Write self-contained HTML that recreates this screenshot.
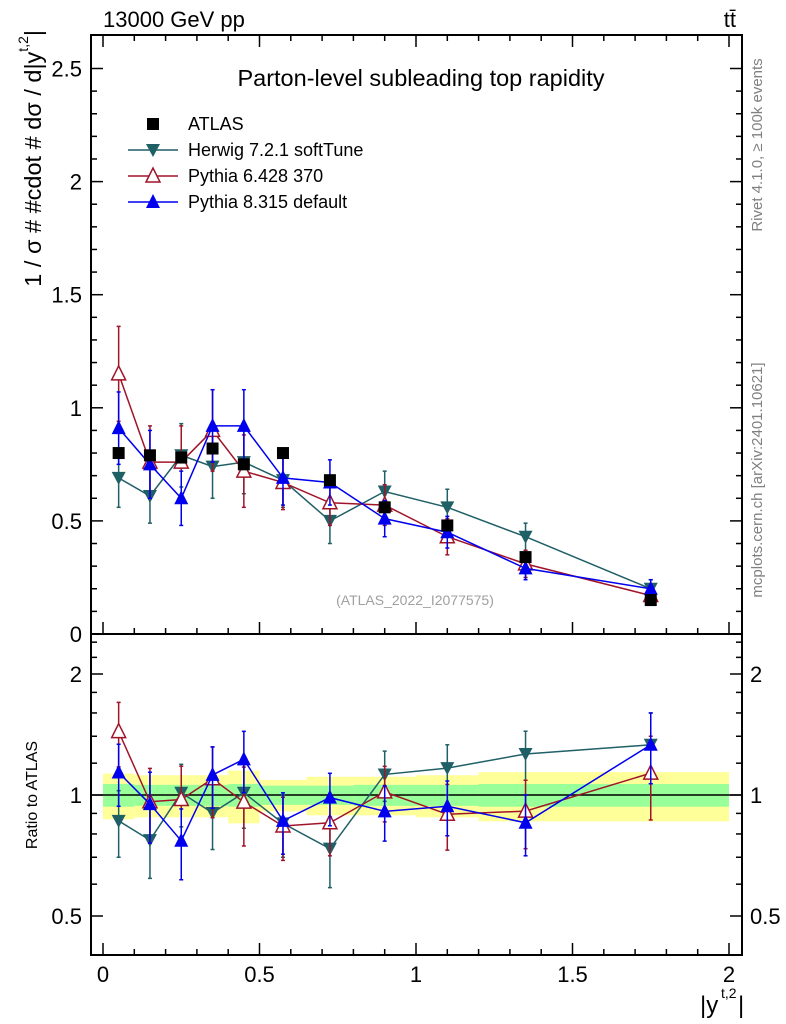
<!DOCTYPE html>
<html><head><meta charset="utf-8"><style>
body{margin:0;background:#fff;}
svg{display:block;font-family:"Liberation Sans",sans-serif;}
</style></head><body>
<svg id="c" width="786" height="1024"></svg>
<script>
const edges=[0,0.1,0.2,0.3,0.4,0.5,0.65,0.8,1.0,1.2,1.5,2.0];
const atlas=[0.80,0.79,0.78,0.82,0.75,0.80,0.68,0.56,0.48,0.34,0.15];
const atlasTot=[0.13,0.12,0.12,0.12,0.15,0.09,0.11,0.11,0.12,0.14,0.14];
const atlasStat=[0.065,0.06,0.06,0.06,0.065,0.055,0.055,0.06,0.06,0.065,0.065];
const herwig=[0.69,0.61,0.79,0.74,0.76,0.68,0.50,0.63,0.56,0.43,0.20];
const herwigErr=[0.13,0.12,0.14,0.14,0.14,0.12,0.10,0.09,0.08,0.06,0.04];
const py6=[1.15,0.76,0.76,0.90,0.72,0.67,0.58,0.57,0.43,0.31,0.17];
const py6Err=[0.21,0.16,0.16,0.18,0.16,0.12,0.10,0.09,0.08,0.06,0.04];
const py8=[0.91,0.75,0.60,0.92,0.92,0.69,0.67,0.51,0.45,0.29,0.20];
const py8Err=[0.16,0.15,0.12,0.16,0.16,0.12,0.10,0.08,0.07,0.05,0.04];
const xTicks=[0,0.5,1,1.5,2];
const yTicks=[0.5,1,1.5,2,2.5];
const rTicks=[0.5,1,2];

const NS="http://www.w3.org/2000/svg",S=document.getElementById('c');
const L=91,R=742,T=35,MB=634,RB=955;
const X=v=>103+v*313;
const Y=v=>634-v*226.2;
const RY=v=>795-Math.log2(v)*121;
function el(t,a,p){const e=document.createElementNS(NS,t);for(const k in a)e.setAttribute(k,a[k]);(p||S).appendChild(e);return e;}
function txt(s,a,p){const e=el('text',a,p);e.textContent=s;return e;}
const cx=edges.slice(0,-1).map((e,i)=>(e+edges[i+1])/2);

const gB=el('g',{});


atlasTot.forEach((u,i)=>{el('rect',{x:X(edges[i]),y:RY(1+u),width:X(edges[i+1])-X(edges[i]),height:RY(1-u)-RY(1+u),fill:'#ffff99'},gB);});
atlasStat.forEach((u,i)=>{el('rect',{x:X(edges[i]),y:RY(1+u),width:X(edges[i+1])-X(edges[i]),height:RY(1-u)-RY(1+u),fill:'#99ff99'},gB);});
el('line',{x1:L,x2:R,y1:RY(1),y2:RY(1),stroke:'#000','stroke-width':1.5});

const f1=el('rect',{x:L,y:T,width:R-L,height:MB-T,fill:'none',stroke:'#000','stroke-width':2});

const f2=el('rect',{x:L,y:MB,width:R-L,height:RB-MB,fill:'none',stroke:'#000','stroke-width':2});


for(let v=0;v<=2.001;v+=0.1){const big=Math.abs(v*2-Math.round(v*2))<1e-6;const h=big?12:6;
 [MB,RB].forEach(b=>{el('line',{x1:X(v),x2:X(v),y1:b,y2:b-h,stroke:'#000','stroke-width':1.5});});
 el('line',{x1:X(v),x2:X(v),y1:T,y2:T+h,stroke:'#000','stroke-width':1.5});}
xTicks.forEach(v=>{const t=txt(String(v),{x:X(v),y:982,'font-size':22,'text-anchor':'middle'});});
for(let v=0;v<=2.6;v+=0.1){const big=Math.abs(v*2-Math.round(v*2))<1e-6;const h=big?12:6;
 if(Y(v)<T)continue;
 el('line',{x1:L,x2:L+h,y1:Y(v),y2:Y(v),stroke:'#000','stroke-width':1.5});
 el('line',{x1:R,x2:R-h,y1:Y(v),y2:Y(v),stroke:'#000','stroke-width':1.5});}
yTicks.forEach(v=>{const t=txt(String(v),{x:82,y:Y(v)+8,'font-size':22,'text-anchor':'end'});});
txt('0',{x:82,y:642,'font-size':22,'text-anchor':'end'});
[0.4,0.5,0.6,0.7,0.8,0.9,1,2].forEach(v=>{const h=(v==0.5||v==1||v==2)?12:6;
 el('line',{x1:L,x2:L+h,y1:RY(v),y2:RY(v),stroke:'#000','stroke-width':1.5});
 el('line',{x1:R,x2:R-h,y1:RY(v),y2:RY(v),stroke:'#000','stroke-width':1.5});});
[1.2,1.4,1.6,1.8,2.2,2.4].forEach(v=>{[L,R].forEach(x0=>el('line',{x1:x0,x2:x0+(x0==L?6:-6),y1:RY(v),y2:RY(v),stroke:'#000','stroke-width':1.5}));});
rTicks.forEach(v=>{[82,750].forEach(xx=>{const t=txt(String(v),{x:xx,y:RY(v)+8,'font-size':22,'text-anchor':xx<100?'end':'start'});});});

function marker(kind,x,y,col,p){
 if(kind=='sq')el('rect',{x:x-6,y:y-6,width:12,height:12,fill:'#000'},p);
 else if(kind=='down')el('polygon',{points:`${x-7},${y-6} ${x+7},${y-6} ${x},${y+7}`,fill:col},p);
 else if(kind=='up')el('polygon',{points:`${x-7},${y+6} ${x+7},${y+6} ${x},${y-8}`,fill:col},p);
 else el('polygon',{points:`${x-7},${y+6} ${x+7},${y+6} ${x},${y-8}`,fill:'#fff',stroke:col,'stroke-width':1.5},p);}
function series(name,vals,errs,col,kind,ratio){
 const g=el('g',{});
 
 
 const yf=ratio?RY:Y;
 const vv=vals.map((v,i)=>ratio?v/atlas[i]:v);
 const ee=errs.map((e,i)=>ratio?e/atlas[i]:e);
 if(kind!='sq')el('polyline',{points:vv.map((v,i)=>X(cx[i])+','+yf(v)).join(' '),fill:'none',stroke:col,'stroke-width':1.5},g);
 vv.forEach((v,i)=>{if(ee[i]){const a=yf(v+ee[i]),b=yf(Math.max(v-ee[i],0.01));
  el('line',{x1:X(cx[i]),x2:X(cx[i]),y1:a,y2:b,stroke:col,'stroke-width':1.5},g);
  el('line',{x1:X(cx[i])-2,x2:X(cx[i])+2,y1:a,y2:a,stroke:col,'stroke-width':1.5},g);
  el('line',{x1:X(cx[i])-2,x2:X(cx[i])+2,y1:b,y2:b,stroke:col,'stroke-width':1.5},g);}
  marker(kind,X(cx[i]),yf(v),col,g);});}
series('herwig-series',herwig,herwigErr,'#1f5f66','down',false);
series('pythia6-series',py6,py6Err,'#a0142a','open',false);
series('pythia8-series',py8,py8Err,'#0000ee','up',false);
series('atlas-series',atlas,atlas.map(()=>0),'#000','sq',false);
series('herwig-ratio',herwig,herwigErr,'#1f5f66','down',true);
series('pythia6-ratio',py6,py6Err,'#a0142a','open',true);
series('pythia8-ratio',py8,py8Err,'#0000ee','up',true);

const tt=[['13000 GeV pp',{x:103,y:27,'font-size':22},'header-energy'],
['tt̄',{x:736,y:27,'font-size':22,'text-anchor':'end'},'header-process'],
['Parton-level subleading top rapidity',{x:421,y:86,'font-size':23.5,'text-anchor':'middle'},'plot-title'],
['(ATLAS_2022_I2077575)',{x:415,y:605,'font-size':14,fill:'#a0a0a0','text-anchor':'middle'},'analysis-id'],
['|y',{x:700,y:1013,'font-size':24},'x-axis-title'],
['t,2',{x:721,y:998,'font-size':14},'x-axis-title-sup'],
['|',{x:738,y:1013,'font-size':24},'x-axis-title-end']];
tt.forEach(([s,a,n])=>{const t=txt(s,a);});
let t=el('text',{x:0,y:0,'font-size':23.5,transform:'translate(41,30) rotate(-90)','text-anchor':'end'});

t.appendChild(document.createTextNode('1 / σ # #cdot # dσ / d|y'));
const sp=el('tspan',{'font-size':14,dy:-13},t);sp.textContent='t,2';
const sp2=el('tspan',{dy:13},t);sp2.textContent='|';
t=txt('Ratio to ATLAS',{x:0,y:0,'font-size':16,transform:'translate(37,795) rotate(-90)','text-anchor':'middle'});

t=txt('Rivet 4.1.0, ≥ 100k events',{x:0,y:0,'font-size':15,fill:'#808080',transform:'translate(762,145) rotate(-90)','text-anchor':'middle'});

t=txt('mcplots.cern.ch [arXiv:2401.10621]',{x:0,y:0,'font-size':15,fill:'#808080',transform:'translate(762,480) rotate(-90)','text-anchor':'middle'});


const leg=[['ATLAS','sq','#000'],['Herwig 7.2.1 softTune','down','#1f5f66'],['Pythia 6.428 370','open','#a0142a'],['Pythia 8.315 default','up','#0000ee']];
leg.forEach(([s,k,c],i)=>{const g=el('g',{});
 
 
 const y=124+i*26;
 if(k!='sq')el('line',{x1:128,x2:178,y1:y,y2:y,stroke:c,'stroke-width':1.5},g);
 marker(k,153,y,c,g);
 txt(s,{x:188,y:y+6,'font-size':18},g);});
</script>
</body></html>
